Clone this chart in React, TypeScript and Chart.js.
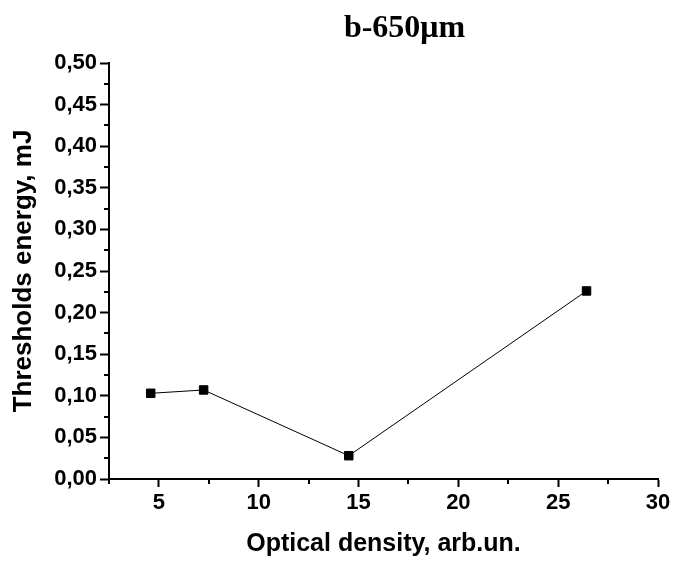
import React, { useEffect, useRef } from 'react';
import { Chart, registerables } from 'chart.js';

Chart.register(...registerables);

const titleText = 'b-650\u03BCm';
const xAxisTitle = 'Optical density, arb.un.';
const yAxisTitle = 'Thresholds energy, mJ';

const xValues = [4.59, 7.24, 14.51, 26.42];
const yValues = [0.103, 0.107, 0.028, 0.226];

const xMajorTicks = [5, 10, 15, 20, 25, 30];
const xMinorTicks = [2.5, 7.5, 12.5, 17.5, 22.5, 27.5];
const yMajorTicks = [0, 0.05, 0.1, 0.15, 0.2, 0.25, 0.3, 0.35, 0.4, 0.45, 0.5];
const yMinorTicks = [0.025, 0.075, 0.125, 0.175, 0.225, 0.275, 0.325, 0.375, 0.425, 0.475];

const SANS = '"Liberation Sans", Arial, sans-serif';
const SERIF = '"Liberation Serif", "Times New Roman", serif';

const minorTicksPlugin = {
  id: 'minorTicks',
  afterDraw(chart: any) {
    const { ctx, scales } = chart;
    const xs = scales.x;
    const ys = scales.y;
    ctx.save();
    ctx.strokeStyle = '#000';
    ctx.lineWidth = 2;
    ctx.beginPath();
    xMinorTicks.forEach((v) => {
      const px = Math.round(xs.getPixelForValue(v));
      ctx.moveTo(px, ys.bottom);
      ctx.lineTo(px, ys.bottom + 5);
    });
    yMinorTicks.forEach((v) => {
      const py = Math.round(ys.getPixelForValue(v));
      ctx.moveTo(xs.left - 5, py);
      ctx.lineTo(xs.left, py);
    });
    ctx.stroke();
    ctx.restore();
  },
};

const titlePlugin = {
  id: 'topTitle',
  afterDraw(chart: any) {
    const { ctx, chartArea } = chart;
    ctx.save();
    ctx.fillStyle = '#000';
    ctx.font = 'bold 32px ' + SERIF;
    ctx.textAlign = 'center';
    ctx.textBaseline = 'alphabetic';
    ctx.fillText(titleText, (chartArea.left + chartArea.right) / 2 + 21, 37);
    ctx.restore();
  },
};

export default function App() {
  const canvasRef = useRef<HTMLCanvasElement | null>(null);

  useEffect(() => {
    document.body.style.margin = '0';
    const canvas = canvasRef.current;
    if (!canvas) return;
    const chart = new Chart(canvas, {
      type: 'scatter',
      data: {
        datasets: [
          {
            data: xValues.map((x, i) => ({ x, y: yValues[i] })),
            showLine: true,
            borderColor: '#000',
            borderWidth: 1,
            backgroundColor: '#000',
            pointStyle: 'rect',
            pointRadius: 6,
            pointHoverRadius: 6,
            pointBorderWidth: 1,
            pointBorderColor: '#000',
            pointBackgroundColor: '#000',
          },
        ],
      },
      options: {
        responsive: false,
        animation: false,
        events: [],
        layout: { padding: { top: 63, right: 16, left: 0, bottom: 0 } },
        plugins: {
          legend: { display: false },
          title: { display: false },
          tooltip: { enabled: false },
        },
        scales: {
          x: {
            type: 'linear',
            min: 2.5,
            max: 30,
            afterBuildTicks: (scale: any) => {
              scale.ticks = xMajorTicks.map((v) => ({ value: v }));
            },
            afterFit: (scale: any) => {
              scale.height = 83;
            },
            border: { display: true, color: '#000', width: 2 },
            grid: {
              display: true,
              drawOnChartArea: false,
              drawTicks: true,
              tickLength: 8,
              tickWidth: 2,
              tickColor: '#000',
            },
            ticks: {
              color: '#000',
              padding: 3,
              maxRotation: 0,
              autoSkip: false,
              font: { family: SANS, size: 22, weight: 'bold' },
              callback: (v: any) => String(v),
            },
            title: {
              display: true,
              text: xAxisTitle,
              color: '#000',
              padding: { top: 0, bottom: 3 },
              font: { family: SANS, size: 25, weight: 'bold' },
            },
          },
          y: {
            type: 'linear',
            min: 0,
            max: 0.5,
            afterBuildTicks: (scale: any) => {
              scale.ticks = yMajorTicks.map((v) => ({ value: v }));
            },
            afterFit: (scale: any) => {
              scale.width = 109;
            },
            border: { display: true, color: '#000', width: 2 },
            grid: {
              display: true,
              drawOnChartArea: false,
              drawTicks: true,
              tickLength: 9,
              tickWidth: 2,
              tickColor: '#000',
            },
            ticks: {
              color: '#000',
              padding: 3,
              autoSkip: false,
              font: { family: SANS, size: 22, weight: 'bold' },
              callback: (v: any) => Number(v).toFixed(2).replace('.', ','),
            },
            title: {
              display: true,
              text: yAxisTitle,
              color: '#000',
              padding: { top: 8, bottom: 0 },
              font: { family: SANS, size: 26, weight: 'bold' },
            },
          },
        },
      },
      plugins: [minorTicksPlugin, titlePlugin],
    } as any);
    return () => chart.destroy();
  }, []);

  return (
    <div style={{ width: 674, height: 562, background: '#fff' }}>
      <canvas ref={canvasRef} width={674} height={562} style={{ display: 'block' }} />
    </div>
  );
}
